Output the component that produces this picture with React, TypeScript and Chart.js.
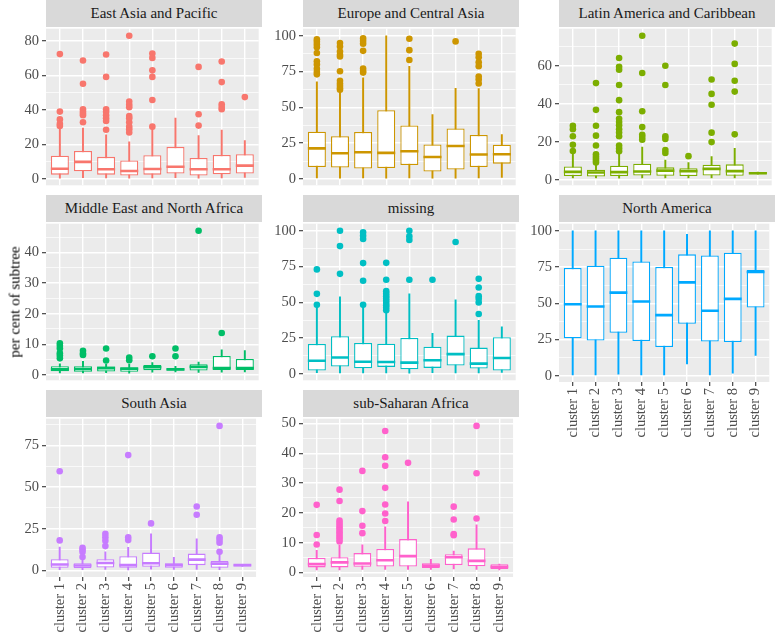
import React, { useEffect, useRef } from "react";
import { Chart, registerables } from "chart.js";
Chart.register(...registerables);

const FONT = '"Liberation Serif", "Times New Roman", serif';

const regions = [
  "East Asia and Pacific",
  "Europe and Central Asia",
  "Latin America and Caribbean",
  "Middle East and North Africa",
  "missing",
  "North America",
  "South Asia",
  "sub-Saharan Africa",
];
const clusters = ["cluster 1", "cluster 2", "cluster 3", "cluster 4", "cluster 5", "cluster 6", "cluster 7", "cluster 8", "cluster 9"];
const colors = ["#F8766D", "#CD9600", "#7CAE00", "#00BE67", "#00BFC4", "#00A9FF", "#C77CFF", "#FF61CC"];
const yStep = [20, 25, 20, 10, 25, 25, 25, 10];
const showXAxis = [false, false, false, false, false, true, true, true];

// five-number summaries per cluster: [lower whisker, Q1, median, Q3, upper whisker]
const eapStats = [[0.6, 2.6, 6.0, 13.6, 29.5], [0.8, 4.5, 10.0, 16.3, 29.5], [0.7, 2.6, 5.7, 12.9, 25.7], [0.6, 2.1, 4.7, 10.8, 21.6], [0.7, 2.6, 5.9, 13.8, 29.5], [0.8, 3.2, 7.2, 18.7, 35.4], [0.55, 2.1, 5.7, 12.3, 25.2], [0.7, 2.8, 5.7, 14.0, 28.4], [1.0, 3.2, 7.8, 14.4, 22.3]];
const eapOut = [[72.4, 39.1, 34.6, 32.0, 30.8], [68.7, 55.2, 40.5, 39.1, 38.0, 37.0, 32.9], [72.2, 59.2, 40.5, 39.0, 37.0, 35.2, 33.7, 28.6], [83.0, 45.0, 43.1, 41.6, 36.5, 35.2, 32.9, 30.4, 28.9, 27.0], [72.8, 70.2, 63.0, 59.2, 45.8, 30.4], [], [65.0, 37.6, 31.0], [68.1, 56.2, 43.3, 41.8, 40.5], [47.5]];

const ecaStats = [[0.8, 8.4, 21.4, 33.0, 67.9], [0.6, 8.0, 18.0, 29.8, 61.7], [0.7, 7.3, 18.7, 32.8, 70.6], [0.6, 7.7, 18.2, 48.0, 100], [0.8, 9.8, 19.4, 37.4, 78.6], [0.6, 5.2, 15.3, 24.1, 44.9], [0.55, 6.6, 23.0, 35.3, 63.3], [0.7, 8.4, 17.1, 30.8, 63.1], [1.0, 10.7, 17.3, 23.9, 31.0]];
const ecaOut = [[97.5, 95.9, 94.0, 92.0, 88.0, 82.2, 80.0, 77.0, 74.7, 73.1], [95.0, 92.5, 89.0, 86.8, 85.6, 75.2, 68.6, 66.7, 65.1, 63.6, 62.4], [98.2, 96.4, 94.5, 89.5, 77.2, 75.4, 74.3], [], [98.0, 90.0, 83.1], [], [96.1], [87.5, 85.0, 81.5, 78.8, 71.5, 69.5, 66.7], []];

const lacStats = [[1.0, 1.9, 4.1, 7.0, 14.3], [0.9, 1.7, 3.8, 5.3, 8.8], [0.8, 1.9, 4.0, 7.4, 13.4], [0.9, 2.2, 4.3, 8.4, 17.2], [1.0, 2.1, 4.8, 6.5, 10.3], [1.0, 1.9, 4.5, 6.0, 9.0], [0.9, 2.2, 5.7, 7.9, 12.2], [1.0, 2.1, 4.5, 8.1, 16.5], [2.9, 2.9, 3.4, 4.0, 4.0]];
const lacOut = [[28.4, 26.6, 22.9, 18.4, 15.1], [50.9, 36.8, 28.4, 23.2, 18.0, 13.4, 12.2, 11.2, 10.1, 9.1], [64.1, 59.5, 57.9, 49.9, 41.9, 35.6, 32.1, 30.4, 28.7, 26.6, 24.9, 22.9, 18.0, 16.5, 15.0], [75.8, 56.2, 36.1, 27.7, 23.7, 22.5, 21.1], [60.0, 49.9, 22.9, 21.5, 15.6, 14.1], [12.4], [52.8, 45.2, 39.5, 24.8, 19.8], [71.7, 61.0, 52.1, 46.4, 23.9], []];

const menaStats = [[0.6, 1.2, 1.8, 2.8, 3.6], [0.6, 1.0, 1.9, 2.8, 4.4], [0.7, 1.1, 2.2, 2.7, 3.5], [0.55, 1.0, 2.0, 2.5, 3.5], [0.9, 1.5, 2.5, 3.2, 4.0], [1.0, 1.4, 1.8, 2.2, 2.8], [0.8, 1.4, 2.6, 3.5, 4.2], [0.9, 1.6, 2.2, 6.2, 8.2], [1.0, 1.6, 2.2, 5.2, 7.9]];
const menaOut = [[10.3, 9.5, 8.6, 7.1, 6.3, 5.4], [7.9, 7.0, 6.5], [8.6, 4.7], [5.7, 4.8], [6.1], [8.6, 6.1], [47.1], [13.7], []];

const missingStats = [[0.8, 2.3, 9.1, 20.8, 46.3], [0.5, 5.0, 11.4, 26.3, 53.9], [0.6, 3.9, 8.4, 21.5, 45.7], [0.5, 4.8, 8.2, 21.0, 43.0], [0.4, 3.2, 7.8, 25.1, 55.9], [0.8, 4.1, 9.4, 18.9, 28.3], [0.6, 5.7, 13.7, 26.7, 51.8], [0.5, 3.7, 7.1, 18.3, 37.4], [0.9, 2.3, 11.0, 25.6, 32.9]];
const missingOut = [[73.0, 55.9, 48.2], [100, 89.3, 69.9], [98.9, 96.6, 94.3, 77.4, 65.1, 48.2], [77.6, 65.8, 57.8, 55.9, 54.3, 52.7, 51.1, 49.5, 47.9, 46.3, 44.5], [100, 96.1, 93.6, 65.8], [65.8], [92.2], [66.4, 60.3, 54.3, 52.5, 49.8, 41.8], []];

const naStats = [[0.7, 25.9, 49.4, 74.4, 100], [0.7, 24.3, 47.8, 76.0, 100], [1.1, 29.7, 57.4, 81.5, 100], [0.7, 24.0, 51.3, 78.9, 100], [0.7, 19.9, 41.9, 75.1, 100], [8.2, 35.9, 64.5, 83.8, 97.7], [0.7, 23.6, 44.9, 83.1, 100], [1.8, 23.3, 53.1, 84.9, 100], [14.0, 47.1, 71.6, 73.0, 100]];
const naOut = [[], [], [], [], [], [], [], [], []];

const saStats = [[0.5, 1.6, 3.6, 6.7, 14.0], [0.5, 1.4, 3.0, 4.3, 6.5], [0.6, 1.8, 4.5, 6.7, 11.2], [0.4, 1.6, 3.2, 8.5, 13.8], [0.8, 2.2, 4.3, 10.7, 21.9], [0.7, 1.6, 3.2, 4.3, 7.9], [0.6, 3.2, 6.5, 10.1, 18.9], [0.5, 1.6, 4.1, 5.7, 10.0], [2.4, 2.4, 3.2, 3.7, 3.7]];
const saOut = [[59.4, 18.0], [13.6, 12.4, 11.0, 8.1], [21.9, 19.9, 17.8, 14.6], [69.1, 19.9, 18.2], [28.2], [], [38.3, 33.4], [86.6, 19.9, 18.4, 16.6, 11.2], []];

const ssaStats = [[0.9, 1.7, 2.8, 4.9, 7.4], [0.9, 1.7, 3.4, 5.1, 9.1], [1.0, 1.9, 3.0, 6.5, 9.3], [1.0, 2.0, 4.1, 7.9, 15.3], [1.0, 2.0, 5.5, 11.2, 23.7], [1.0, 1.5, 2.3, 3.1, 4.4], [1.2, 2.5, 5.1, 6.1, 7.2], [1.0, 2.1, 3.9, 8.1, 16.0], [0.9, 1.2, 1.9, 2.8, 2.8]];
const ssaOut = [[22.7, 12.6, 9.4], [27.8, 24.0, 17.4, 16.6, 15.8, 15.0, 14.3, 13.5, 12.7, 11.9, 11.2, 10.4], [34.1, 20.6, 15.7, 13.2], [47.5, 38.7, 35.8, 28.4, 22.8, 19.8, 17.3], [36.8], [], [22.1, 17.8, 12.9, 12.5], [49.2, 33.3, 18.1], []];

const statsByRegion = [eapStats, ecaStats, lacStats, menaStats, missingStats, naStats, saStats, ssaStats];
const outByRegion = [eapOut, ecaOut, lacOut, menaOut, missingOut, naOut, saOut, ssaOut];

// layout (pixels)
const colLeft = [46, 303, 559];
const rowTop = [27, 222, 417];
const PW = 216;
const PH = 160;
const STRIP = 27;
const YAX = 40;
const PADT = 10;
const XAXH = 62;
const BOXW = 0.78;

const bgPlugin = {
  id: "panelBg",
  beforeDraw(chart: any) {
    const { ctx, chartArea: a } = chart;
    ctx.save();
    ctx.fillStyle = "#EBEBEB";
    ctx.fillRect(a.left, a.top, a.right - a.left, a.bottom - a.top);
    ctx.restore();
  },
};

function Panel({ i }: { i: number }) {
  const ref = useRef<HTMLCanvasElement>(null);
  const row = Math.floor(i / 3);
  const col = i % 3;
  const hasX = showXAxis[i];
  const left = colLeft[col];
  const top = rowTop[row];
  const cw = YAX + PW;
  const ch = PADT + PH + (hasX ? XAXH : PADT);

  useEffect(() => {
    const stats = statsByRegion[i];
    const outs = outByRegion[i];
    const color = colors[i];
    const step = yStep[i];
    const all = stats.flat().concat(outs.flat());
    const lo = Math.min(...all);
    const hi = Math.max(...all);
    const pad = (hi - lo) * 0.05;
    const yMin = lo - pad;
    const yMax = hi + pad;
    const yTicks: { value: number; major: boolean }[] = [];
    const half = step / 2;
    for (let k = Math.ceil(yMin / half); k * half <= yMax; k++) {
      yTicks.push({ value: k * half, major: k % 2 === 0 });
    }
    const halfBox = (ctx: any) => {
      const sx = ctx.chart.scales.x;
      if (!sx) return 9;
      return (Math.abs(sx.getPixelForValue(2) - sx.getPixelForValue(1)) * BOXW) / 2;
    };

    const chart = new Chart(ref.current as HTMLCanvasElement, {
      type: "bar",
      data: {
        datasets: [
          {
            type: "scatter",
            label: "outliers",
            data: outs.flatMap((arr, k) => arr.map((v) => ({ x: k + 1, y: v }))),
            pointBackgroundColor: color,
            pointBorderWidth: 0,
            pointRadius: 3.3,
            pointHoverRadius: 3.3,
            order: 0,
          } as any,
          {
            type: "scatter",
            label: "median",
            data: stats.map((s, k) => ({ x: k + 1, y: s[2] })),
            pointStyle: "line",
            pointBorderColor: color,
            pointBorderWidth: 2.6,
            pointRadius: halfBox,
            pointHoverRadius: halfBox,
            order: 1,
          } as any,
          {
            type: "bar",
            label: "box",
            data: stats.map((s, k) => ({ x: k + 1, y: [s[1], s[3]] })),
            backgroundColor: "#FFFFFF",
            borderColor: color,
            borderWidth: 1.3,
            borderSkipped: false,
            grouped: false,
            barPercentage: BOXW,
            categoryPercentage: 1,
            order: 2,
          } as any,
          {
            type: "bar",
            label: "whisker",
            data: stats.map((s, k) => ({ x: k + 1, y: [s[0], s[4]] })),
            backgroundColor: color,
            borderWidth: 0,
            grouped: false,
            barThickness: 1.3,
            order: 3,
          } as any,
        ],
      },
      options: {
        responsive: false,
        animation: false,
        events: [],
        layout: { padding: { top: PADT, bottom: hasX ? 0 : PADT, left: 0, right: 0 } },
        plugins: { legend: { display: false }, tooltip: { enabled: false } },
        scales: {
          x: {
            type: "linear",
            min: 0.4,
            max: 9.6,
            offset: false,
            afterBuildTicks: (s: any) => {
              s.ticks = clusters.map((_, k) => ({ value: k + 1 }));
            },
            afterFit: (s: any) => {
              s.height = hasX ? XAXH : 0;
            },
            ticks: {
              display: hasX,
              autoSkip: false,
              minRotation: 90,
              maxRotation: 90,
              padding: 2,
              color: "#4D4D4D",
              font: { family: FONT, size: 14.5 },
              callback: (_v: any, idx: number) => clusters[idx],
            },
            grid: {
              offset: false,
              color: "#FFFFFF",
              lineWidth: 1.4,
              drawTicks: hasX,
              tickColor: "#333333",
              tickLength: 4,
              tickWidth: 1.1,
            },
            border: { display: false },
          } as any,
          y: {
            type: "linear",
            min: yMin,
            max: yMax,
            afterBuildTicks: (s: any) => {
              s.ticks = yTicks.map((t) => ({ value: t.value, major: t.major }));
            },
            afterFit: (s: any) => {
              s.width = YAX;
            },
            ticks: {
              autoSkip: false,
              padding: 3,
              color: "#4D4D4D",
              font: { family: FONT, size: 14.5 },
              callback: (_v: any, idx: number) => (yTicks[idx] && yTicks[idx].major ? String(yTicks[idx].value) : ""),
            },
            grid: {
              color: "#FFFFFF",
              lineWidth: (c: any) => (yTicks[c.index] && yTicks[c.index].major ? 1.4 : 0.7),
              drawTicks: true,
              tickColor: (c: any) => (yTicks[c.index] && yTicks[c.index].major ? "#333333" : "rgba(0,0,0,0)"),
              tickLength: 4,
              tickWidth: 1.1,
            },
            border: { display: false },
          } as any,
        },
      },
      plugins: [bgPlugin],
    } as any);
    return () => chart.destroy();
  }, []);

  return (
    <>
      <div
        style={{
          position: "absolute",
          left,
          top: top - STRIP,
          width: PW,
          height: STRIP,
          background: "#D9D9D9",
          color: "#1A1A1A",
          fontFamily: FONT,
          fontSize: 15,
          fontWeight: 400,
          lineHeight: STRIP + "px",
          textAlign: "center",
          whiteSpace: "nowrap",
        }}
      >
        {regions[i]}
      </div>
      <canvas
        ref={ref}
        width={cw}
        height={ch}
        style={{ position: "absolute", left: left - YAX, top: top - PADT, width: cw, height: ch }}
      />
    </>
  );
}

export default function App() {
  return (
    <div style={{ position: "absolute", left: 0, top: 0, width: 775, height: 637, background: "#FFFFFF", overflow: "hidden" }}>
      {regions.map((_, i) => (
        <Panel key={i} i={i} />
      ))}
      <div
        style={{
          position: "absolute",
          left: 15,
          top: 302,
          transform: "translate(-50%, -50%) rotate(-90deg)",
          whiteSpace: "nowrap",
          fontFamily: FONT,
          fontSize: 15,
          fontWeight: 400,
          color: "#000000",
        }}
      >
        per cent of subtree
      </div>
    </div>
  );
}
